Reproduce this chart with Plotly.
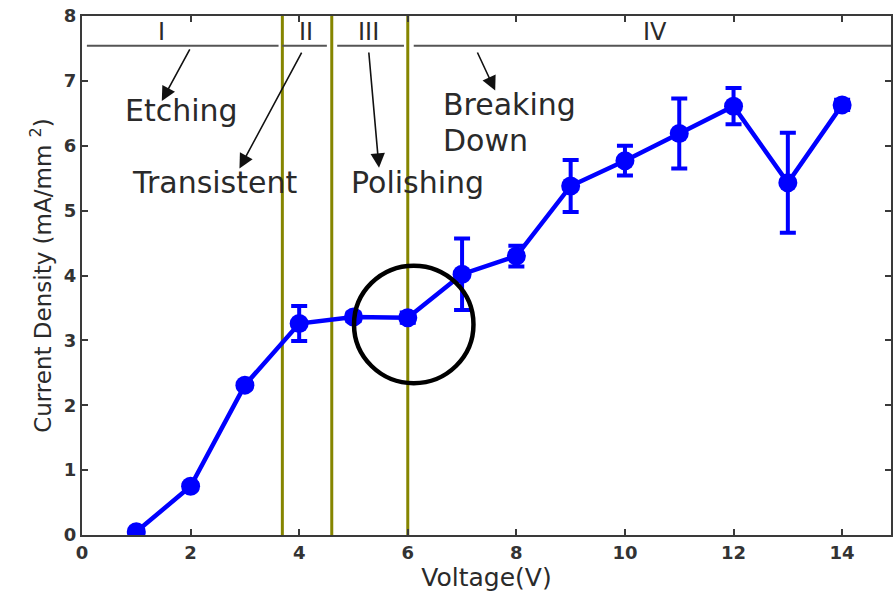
import plotly.graph_objects as go

# Measured current density vs. applied voltage
voltage = [1, 2, 3, 4, 5, 6, 7, 8, 9, 10, 11, 12, 13, 14]
current_density = [0.05, 0.75, 2.31, 3.26, 3.36, 3.35, 4.02, 4.30, 5.38, 5.77, 6.19, 6.61, 5.43, 6.63]
error = [0.02, 0.05, 0.05, 0.27, 0.06, 0.08, 0.55, 0.16, 0.40, 0.23, 0.54, 0.28, 0.77, 0.08]

# Regime boundaries (V) and regime labels
boundaries = [3.69, 4.6, 6.0]
regime_names = ["I", "II", "III", "IV"]
regime_label_x = [1.47, 4.13, 5.28, 10.55]
regime_spans = [(0.09, 3.62), (3.69, 4.51), (4.70, 5.93), (6.11, 14.9)]
regime_bar_y = 7.54
regime_label_y = 7.75

x_ticks = [0, 2, 4, 6, 8, 10, 12, 14]
y_ticks = [0, 1, 2, 3, 4, 5, 6, 7, 8]

BLUE = "#0000FF"
OLIVE = "#858500"
AXIS = "#3a3a3a"
TEXT = "#2a2a2a"
FONT = "DejaVu Sans"

fig = go.Figure()

fig.add_trace(go.Scatter(
    x=voltage, y=current_density,
    mode="lines+markers",
    line=dict(color=BLUE, width=4.5),
    marker=dict(color=BLUE, size=19, symbol="circle"),
    error_y=dict(type="data", array=error, color=BLUE, thickness=4, width=8),
    showlegend=False,
))

shapes = []
for b in boundaries:
    shapes.append(dict(type="line", xref="x", yref="y", x0=b, x1=b, y0=0, y1=8,
                       line=dict(color=OLIVE, width=3), layer="below"))
for x0, x1 in regime_spans:
    shapes.append(dict(type="line", xref="x", yref="y", x0=x0, x1=x1,
                       y0=regime_bar_y, y1=regime_bar_y,
                       line=dict(color="#555555", width=2)))
# Highlight around the polishing plateau
shapes.append(dict(type="circle", xref="x", yref="y", x0=5.01, x1=7.21, y0=2.34, y1=4.15,
                   line=dict(color="black", width=4.5)))

annotations = []
for name, lx in zip(regime_names, regime_label_x):
    annotations.append(dict(x=lx, y=regime_label_y, xref="x", yref="y", text=name,
                            showarrow=False, font=dict(family=FONT, size=24, color=TEXT)))

# Regime descriptions
labels = [
    ("Etching", 1.83, 6.54, "center"),
    ("Transistent", 2.44, 5.43, "center"),
    ("Polishing", 6.18, 5.43, "center"),
    ("Breaking", 6.62, 6.63, "left"),
    ("Down", 6.62, 6.08, "left"),
]
for txt, tx, ty, anchor in labels:
    annotations.append(dict(x=tx, y=ty, xref="x", yref="y", text=txt, showarrow=False,
                            xanchor=anchor, font=dict(family=FONT, size=30, color=TEXT)))

# Arrows pointing from regime bars to the descriptions: (tail x, tail y, head x, head y)
arrows = [
    (2.0, 7.51, 1.47, 6.69),
    (4.06, 7.46, 2.90, 5.65),
    (5.28, 7.46, 5.47, 5.66),
    (7.27, 7.46, 7.61, 6.85),
]
for ax_, ay_, hx, hy in arrows:
    annotations.append(dict(x=hx, y=hy, ax=ax_, ay=ay_, xref="x", yref="y",
                            axref="x", ayref="y", text="", showarrow=True,
                            arrowhead=2, arrowsize=1.8, arrowwidth=1.6, arrowcolor="#111111"))

fig.update_layout(
    width=894, height=593,
    margin=dict(l=82, r=1, t=16, b=58),
    plot_bgcolor="white", paper_bgcolor="white",
    shapes=shapes, annotations=annotations,
    xaxis=dict(
        range=[0, 14.9], tickvals=x_ticks, ticks="inside", ticklen=6, tickwidth=1.5,
        tickcolor=AXIS, showline=True, linecolor=AXIS, linewidth=2, mirror="ticks",
        showgrid=False, zeroline=False,
        tickfont=dict(family=FONT, size=18, color="#333333", weight="bold"),
        title=dict(text="Voltage(V)", font=dict(family=FONT, size=25, color=TEXT), standoff=6),
    ),
    yaxis=dict(
        range=[0, 8], tickvals=y_ticks, ticks="inside", ticklen=6, tickwidth=1.5,
        tickcolor=AXIS, showline=True, linecolor=AXIS, linewidth=2, mirror="ticks",
        showgrid=False, zeroline=False,
        tickfont=dict(family=FONT, size=18, color="#333333", weight="bold"),
        title=dict(text="Current Density (mA/mm <sup>2</sup>)",
                   font=dict(family=FONT, size=23, color=TEXT), standoff=6),
    ),
)

fig.write_html("out.html")
